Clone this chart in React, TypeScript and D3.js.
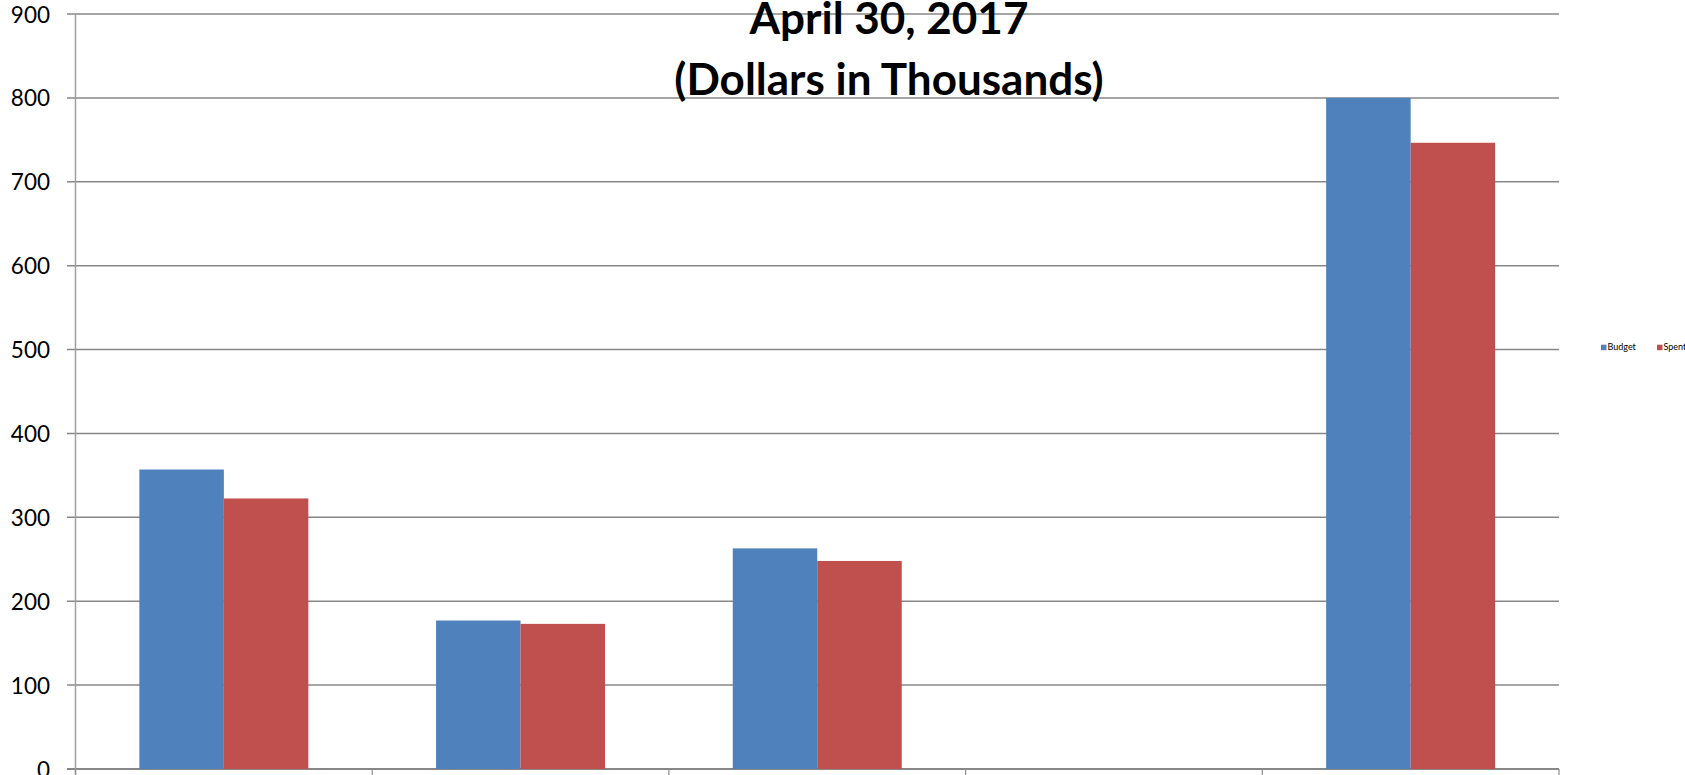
import React from "react";
import * as d3 from "d3";

const categories = ["C1", "C2", "C3", "C4", "C5"];
const seriesNames = ["Budget", "Spent"];
const budget = [357, 177, 263, 0, 800];
const spent = [322.5, 173, 248, 0, 746.5];
const yTicks = [0, 100, 200, 300, 400, 500, 600, 700, 800, 900];
const titleLines = ["April 30, 2017", "(Dollars in Thousands)"];
const colors = ["#4F81BD", "#C0504D"];

const W = 1685;
const H = 775;
const FONT = "Lato, 'Open Sans', sans-serif";

export default function App() {
  const left = 75.5;
  const right = 1559;
  const top = 14;
  const bottom = 769;

  const y = d3.scaleLinear().domain([0, 900]).range([bottom, top]);
  const x0 = d3.scaleBand<string>().domain(categories).range([left, right]).padding(0);
  const x1 = d3
    .scaleBand<string>()
    .domain(seriesNames)
    .range([0, x0.bandwidth()])
    .paddingInner(0)
    .paddingOuter(0.7556);

  const seriesData = [budget, spent];

  const boundaries = categories.map((c) => x0(c) as number).concat([right]);

  return (
    <svg
      width={W}
      height={H}
      style={{ position: "absolute", left: 0, top: 0, background: "#fff" }}
      fontFamily={FONT}
    >
      {/* gridlines */}
      {yTicks.map((t) => (
        <line
          key={"g" + t}
          x1={67}
          x2={right}
          y1={y(t)}
          y2={y(t)}
          stroke="#878787"
          strokeWidth={t === 0 ? 2 : 1.5}
        />
      ))}
      {/* y labels */}
      {yTicks.map((t) => (
        <text
          key={"l" + t}
          x={50}
          y={y(t)}
          textAnchor="end"
          dominantBaseline="central"
          fontSize={22.5}
          fill="#000"
        >
          {t}
        </text>
      ))}
      {/* bars */}
      {categories.map((c, i) => (
        <g key={c} transform={`translate(${x0(c)},0)`}>
          {seriesNames.map((s, j) => {
            const v = seriesData[j][i];
            if (!v) return null;
            return (
              <rect
                key={s}
                x={x1(s)}
                y={y(v)}
                width={x1.bandwidth()}
                height={y(0) - y(v)}
                fill={colors[j]}
              />
            );
          })}
        </g>
      ))}
      {/* y axis */}
      <line x1={left} x2={left} y1={top} y2={bottom + 6} stroke="#a0a0a0" strokeWidth={1.5} />
      {/* x ticks */}
      {boundaries.map((bx, i) => (
        <line key={"t" + i} x1={bx} x2={bx} y1={bottom} y2={bottom + 6} stroke="#8c8c8c" strokeWidth={1.2} />
      ))}
      {/* title */}
      {titleLines.map((t, i) => (
        <text
          key={"tt" + i}
          x={889}
          y={34 + i * 60.5}
          textAnchor="middle"
          fontSize={44}
          fontWeight="bold"
          fill="#000"
        >
          {t}
        </text>
      ))}
      {/* legend */}
      {seriesNames.map((s, j) => (
        <g key={"lg" + s} transform={`translate(${1601 + j * 56},0)`}>
          <rect x={0} y={344.7} width={5.5} height={5.5} fill={colors[j]} />
          <text x={6.5} y={350.2} fontSize={9} fill="#000">
            {s}
          </text>
        </g>
      ))}
    </svg>
  );
}
